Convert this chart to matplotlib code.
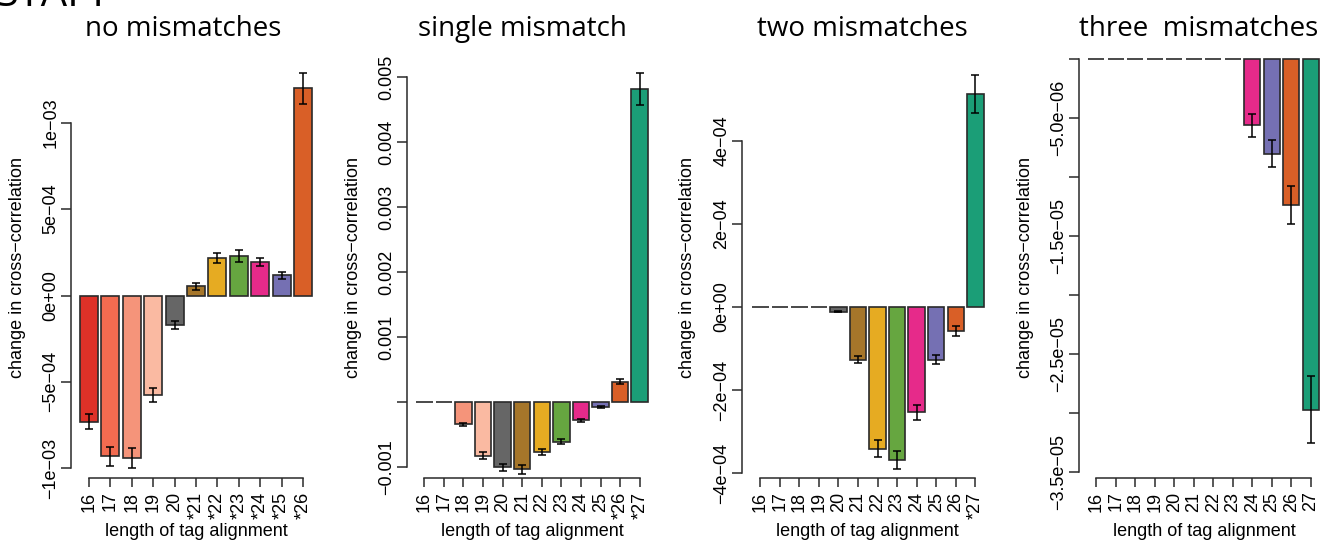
import matplotlib
matplotlib.use("Agg")
import matplotlib.pyplot as plt
import numpy as np

W, H = 1323, 542
TICK_FONT = ["Liberation Sans", "DejaVu Sans"]
TITLE_FONT = ["Open Sans", "DejaVu Sans"]

# colour for each alignment length 16..27
length_colors = {
    16: "#DE3128", 17: "#F26B50", 18: "#F5947A", 19: "#FABAA2",
    20: "#666666", 21: "#A6762A", 22: "#E6AB22", 23: "#66A640",
    24: "#E62A8A", 25: "#7570B3", 26: "#D95F27", 27: "#1B9E77",
}

# ---- no mismatches
lengths_0 = [16, 17, 18, 19, 20, 21, 22, 23, 24, 25, 26]
labels_0 = ["16", "17", "18", "19", "20", "*21", "*22", "*23", "*24", "*25", "*26"]
values_0 = [-7.3e-4, -9.3e-4, -9.4e-4, -5.78e-4, -1.68e-4, 0.54e-4,
            2.18e-4, 2.28e-4, 1.92e-4, 1.16e-4, 1.198e-3]
errors_0 = [0.44e-4, 0.55e-4, 0.56e-4, 0.40e-4, 0.23e-4, 0.21e-4,
            0.29e-4, 0.36e-4, 0.24e-4, 0.18e-4, 0.87e-4]
yticks_0 = [-1e-3, -5e-4, 0, 5e-4, 1e-3]
ylabels_0 = ["\u22121e\u221203", "\u22125e\u221204", "0e+00", "5e\u221204", "1e\u221203"]

# ---- single mismatch
lengths_1 = [16, 17, 18, 19, 20, 21, 22, 23, 24, 25, 26, 27]
labels_1 = ["16", "17", "18", "19", "20", "21", "22", "23", "24", "25", "*26", "*27"]
values_1 = [0, 0, -3.46e-4, -8.24e-4, -1.005e-3, -1.037e-3, -7.71e-4,
            -6.12e-4, -2.82e-4, -0.80e-4, 3.14e-4, 4.819e-3]
errors_1 = [0, 0, 0.2e-4, 0.53e-4, 0.56e-4, 0.64e-4, 0.50e-4,
            0.37e-4, 0.24e-4, 0.16e-4, 0.37e-4, 2.45e-4]
yticks_1 = [-0.001, 0, 0.001, 0.002, 0.003, 0.004, 0.005]
ylabels_1 = ["\u22120.001", "", "0.001", "0.002", "0.003", "0.004", "0.005"]

# ---- two mismatches
lengths_2 = [16, 17, 18, 19, 20, 21, 22, 23, 24, 25, 26, 27]
labels_2 = ["16", "17", "18", "19", "20", "21", "22", "23", "24", "25", "26", "*27"]
values_2 = [0, 0, 0, 0, -0.11e-4, -1.27e-4, -3.41e-4, -3.68e-4,
            -2.54e-4, -1.27e-4, -0.58e-4, 5.13e-4]
errors_2 = [0, 0, 0, 0, 0.02e-4, 0.08e-4, 0.21e-4, 0.22e-4,
            0.18e-4, 0.11e-4, 0.12e-4, 0.45e-4]
yticks_2 = [-4e-4, -2e-4, 0, 2e-4, 4e-4]
ylabels_2 = ["\u22124e\u221204", "\u22122e\u221204", "0e+00", "2e\u221204", "4e\u221204"]

# ---- three mismatches
lengths_3 = [16, 17, 18, 19, 20, 21, 22, 23, 24, 25, 26, 27]
labels_3 = ["16", "17", "18", "19", "20", "21", "22", "23", "24", "25", "26", "27"]
values_3 = [0, 0, 0, 0, 0, 0, 0, 0, -5.62e-6, -8.03e-6, -12.42e-6, -29.73e-6]
errors_3 = [0, 0, 0, 0, 0, 0, 0, 0, 0.98e-6, 1.17e-6, 1.61e-6, 2.87e-6]
yticks_3 = [0, -5e-6, -1e-5, -1.5e-5, -2e-5, -2.5e-5, -3e-5, -3.5e-5]
ylabels_3 = ["", "\u22125.0e\u221206", "", "\u22121.5e\u221205", "",
             "\u22122.5e\u221205", "", "\u22123.5e\u221205"]

titles = ["no mismatches", "single mismatch", "two mismatches", "three  mismatches"]

# layout in pixels: axis x, right edge, top, first/last bar centre,
# two reference (value, pixel y) pairs, title x, ylabel x, xlabel x
panels = [
    dict(lengths=lengths_0, labels=labels_0, values=values_0, errors=errors_0,
         yticks=yticks_0, ylabels=ylabels_0, ax_x=71, right=322, top=57,
         c0=89.0, c1=303.0, ref=((0, 295.5), (1e-3, 122.7)),
         title_x=183, ylab_x=18, xlab_x=196),
    dict(lengths=lengths_1, labels=labels_1, values=values_1, errors=errors_1,
         yticks=yticks_1, ylabels=ylabels_1, ax_x=407, right=657, top=57,
         c0=424.3, c1=639.7, ref=((0, 402.0), (0.005, 77.0)),
         title_x=522, ylab_x=353, xlab_x=532),
    dict(lengths=lengths_2, labels=labels_2, values=values_2, errors=errors_2,
         yticks=yticks_2, ylabels=ylabels_2, ax_x=742, right=992, top=57,
         c0=760.3, c1=975.3, ref=((0, 307.0), (4e-4, 141.0)),
         title_x=862, ylab_x=688, xlab_x=867),
    dict(lengths=lengths_3, labels=labels_3, values=values_3, errors=errors_3,
         yticks=yticks_3, ylabels=ylabels_3, ax_x=1079, right=1323, top=58.8,
         c0=1096.3, c1=1310.7, ref=((0, 58.8), (-3.5e-5, 471.8)),
         title_x=1199, ylab_x=1025, xlab_x=1204),
]
BOTTOM = 477.7
EDGE = "#2a2a2a"
FS = 13

fig = plt.figure(figsize=(W / 100, H / 100), dpi=100)

for i, p in enumerate(panels):
    n = len(p["lengths"])
    left, right, top = p["ax_x"], p["right"], p["top"]
    ax = fig.add_axes([left / W, 1 - BOTTOM / H, (right - left) / W, (BOTTOM - top) / H])

    step = (p["c1"] - p["c0"]) / (n - 1)
    ax.set_xlim((left - p["c0"]) / step, (right - p["c0"]) / step)
    (v0, y0), (v1, y1) = p["ref"]
    per_px = (v1 - v0) / (y0 - y1)
    ax.set_ylim(v0 - (BOTTOM - y0) * per_px, v0 + (y0 - top) * per_px)

    x = np.arange(n)
    colors = [length_colors[l] for l in p["lengths"]]
    ax.bar(x, p["values"], width=0.84, color=colors, edgecolor=EDGE,
           linewidth=1.2, clip_on=False, zorder=2)
    vals = np.array(p["values"])
    errs = np.array(p["errors"])
    m = errs > 0
    ax.errorbar(x[m], vals[m], yerr=errs[m], fmt="none", ecolor="black",
                elinewidth=1.1, capsize=3, capthick=1.1, clip_on=False, zorder=3)

    for s in ["top", "right"]:
        ax.spines[s].set_visible(False)
    ax.spines["left"].set_bounds(min(p["yticks"]), max(p["yticks"]))
    ax.spines["bottom"].set_bounds(0, n - 1)
    for s in ["left", "bottom"]:
        ax.spines[s].set_color(EDGE)
        ax.spines[s].set_linewidth(1.1)

    ax.set_yticks(p["yticks"])
    ax.set_yticklabels(p["ylabels"], rotation=90, va="center",
                       family=TICK_FONT, fontsize=FS)
    ax.set_xticks(x)
    ax.set_xticklabels(p["labels"], rotation=90, family=TICK_FONT, fontsize=FS)
    ax.tick_params(axis="y", length=7, width=1.1, color=EDGE, pad=1.5)
    ax.tick_params(axis="x", length=6.5, width=1.1, color=EDGE, pad=3.5)
    ax.patch.set_visible(False)

    fig.text(p["title_x"] / W, 1 - 36.3 / H, titles[i], ha="center", va="baseline",
             family=TITLE_FONT, fontsize=20)
    fig.text(p["ylab_x"] / W, 1 - 267.5 / H, "change in cross\u2212correlation",
             rotation=90, ha="center", va="center", family=TICK_FONT, fontsize=FS)
    fig.text(p["xlab_x"] / W, 1 - 531 / H, "length of tag alignment",
             ha="center", va="center", family=TICK_FONT, fontsize=FS)

# heading cut off at the very top left, as in the source figure
fig.text(-4 / W, 1 - 6.2 / H, "STAPP", ha="left", va="baseline",
         family=TITLE_FONT, fontsize=30)

fig.savefig("out.png", dpi=100)
